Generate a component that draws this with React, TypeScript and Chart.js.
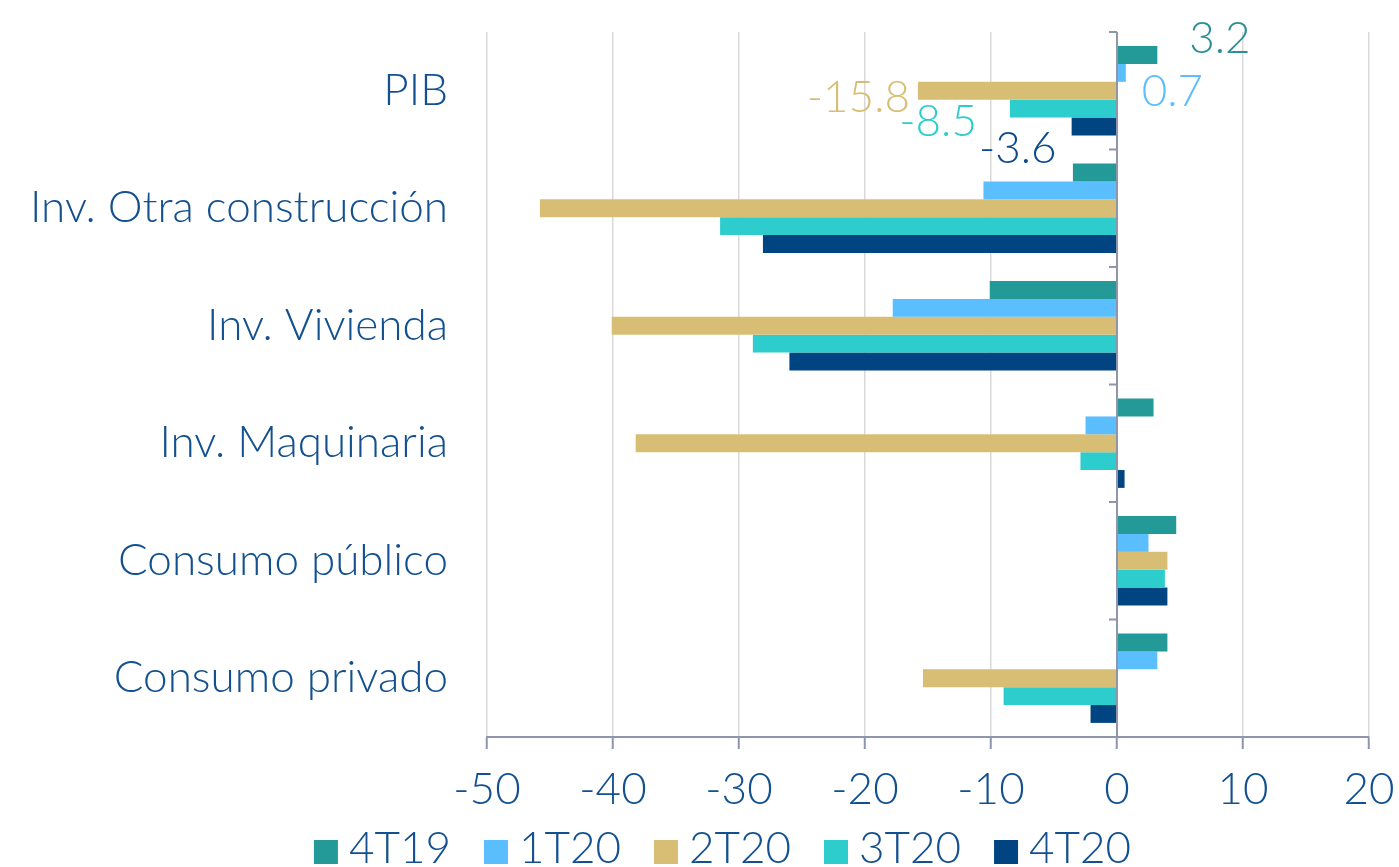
import React, { useEffect, useRef } from "react";
import { Chart, registerables } from "chart.js";

Chart.register(...registerables);

const categories = [
  "PIB",
  "Inv. Otra construcción",
  "Inv. Vivienda",
  "Inv. Maquinaria",
  "Consumo público",
  "Consumo privado",
];
const seriesNames = ["4T19", "1T20", "2T20", "3T20", "4T20"];
const s4T19 = [3.2, -3.5, -10.1, 2.9, 4.7, 4.0];
const s1T20 = [0.7, -10.6, -17.8, -2.5, 2.5, 3.2];
const s2T20 = [-15.8, -45.8, -40.1, -38.2, 4.0, -15.4];
const s3T20 = [-8.5, -31.5, -28.9, -2.9, 3.8, -9.0];
const s4T20 = [-3.6, -28.1, -26.0, 0.6, 4.0, -2.1];
const xMin = -50;
const xMax = 20;
const xStep = 10;

const colors = ["#239A97", "#5BBEFF", "#D8BE75", "#2DCCCD", "#004481"];
const labelColors = ["#2A8E96", "#5BBEFF", "#D8BE75", "#2DCCCD", "#0B4A8C"];
const textColor = "#12508F";
const axisColor = "#8E96AE";
const FONT = "Lato";
const FS = 44;

// label placement (style): [dx from bar end, dy baseline from bar center, align]
const labelOffsets: [number, number, CanvasTextAlign][] = [
  [32, -2, "left"],
  [16, 33.5, "left"],
  [-8, 21, "right"],
  [-33, 27.5, "right"],
  [-15, 36.5, "right"],
];
const labelledCategory = 0;

const customPlugin = {
  id: "customDraw",
  afterDatasetsDraw(chart: any) {
    const ctx = chart.ctx;
    const { top, bottom } = chart.chartArea;
    const x0 = chart.scales.x.getPixelForValue(0);
    const n = categories.length;
    ctx.save();
    ctx.strokeStyle = axisColor;
    ctx.lineWidth = 2;
    ctx.beginPath();
    ctx.moveTo(x0, top);
    ctx.lineTo(x0, bottom);
    for (let i = 0; i < n; i++) {
      const y = top + (i * (bottom - top)) / n;
      ctx.moveTo(x0 - 8, y);
      ctx.lineTo(x0, y);
    }
    ctx.stroke();

    // data labels for PIB
    ctx.font = `300 ${FS}px ${FONT}`;
    ctx.textBaseline = "alphabetic";
    chart.data.datasets.forEach((ds: any, di: number) => {
      const meta = chart.getDatasetMeta(di);
      const bar = meta.data[labelledCategory];
      if (!bar) return;
      const v = ds.data[labelledCategory];
      const [dx, dy, align] = labelOffsets[di];
      ctx.fillStyle = labelColors[di];
      ctx.textAlign = align;
      ctx.fillText(v.toFixed(1), bar.x + dx, bar.y + dy);
    });
    ctx.restore();
  },
  afterDraw(chart: any) {
    const ctx = chart.ctx;
    ctx.save();
    ctx.font = `300 ${FS}px ${FONT}`;
    ctx.textBaseline = "alphabetic";
    ctx.textAlign = "left";
    const box = 24;
    const gapText = 11;
    const gapItem = 33;
    const items = chart.data.datasets.map((ds: any) => ({
      label: ds.label,
      color: ds.backgroundColor,
      w: ctx.measureText(ds.label).width,
    }));
    const total =
      items.reduce((a: number, it: any) => a + box + gapText + it.w, 0) +
      gapItem * (items.length - 1);
    let x = chart.width / 2 + 23 - total / 2;
    const baseline = 863;
    items.forEach((it: any) => {
      ctx.fillStyle = it.color;
      ctx.fillRect(x, baseline - 23, box, box);
      x += box + gapText;
      ctx.fillStyle = textColor;
      ctx.fillText(it.label, x, baseline);
      x += it.w + gapItem;
    });
    ctx.restore();
  },
};

export default function App() {
  const ref = useRef<HTMLCanvasElement>(null);
  useEffect(() => {
    if (!ref.current) return;
    const allSeries = [s4T19, s1T20, s2T20, s3T20, s4T20];
    const chart = new Chart(ref.current, {
      type: "bar",
      data: {
        labels: categories,
        datasets: allSeries.map((d, i) => ({
          label: seriesNames[i],
          data: d,
          backgroundColor: colors[i],
          borderWidth: 0,
          categoryPercentage: 0.76,
          barPercentage: 1,
        })),
      },
      options: {
        indexAxis: "y",
        responsive: false,
        animation: false,
        layout: { padding: { left: 0, right: 30, top: 32, bottom: 51 } },
        plugins: {
          legend: { display: false },
          tooltip: { enabled: false },
        },
        scales: {
          x: {
            min: xMin,
            max: xMax,
            ticks: {
              stepSize: xStep,
              color: textColor,
              font: { family: FONT, size: FS, weight: "300" as any },
              padding: 14,
            },
            grid: {
              color: "#D9D9D9",
              lineWidth: 1.5,
              tickColor: axisColor,
              tickLength: 12,
              tickWidth: 2,
            },
            border: { display: true, color: axisColor, width: 2 },
            afterFit: (scale: any) => {
              scale.height = 79;
              scale.paddingLeft = 0;
              scale.paddingRight = 0;
            },
          },
          y: {
            ticks: {
              color: textColor,
              font: { family: FONT, size: FS, weight: "300" as any },
              padding: 31,
            },
            grid: { display: false },
            border: { display: false },
            afterFit: (scale: any) => {
              scale.width = 487;
              scale.paddingTop = 0;
              scale.paddingBottom = 0;
            },
          },
        },
      },
      plugins: [customPlugin],
    });
    return () => chart.destroy();
  }, []);
  return (
    <div style={{ position: "absolute", left: 0, top: 0, width: 1399, height: 867, background: "#fff" }}>
      <canvas ref={ref} width={1399} height={867} style={{ display: "block" }} />
    </div>
  );
}
